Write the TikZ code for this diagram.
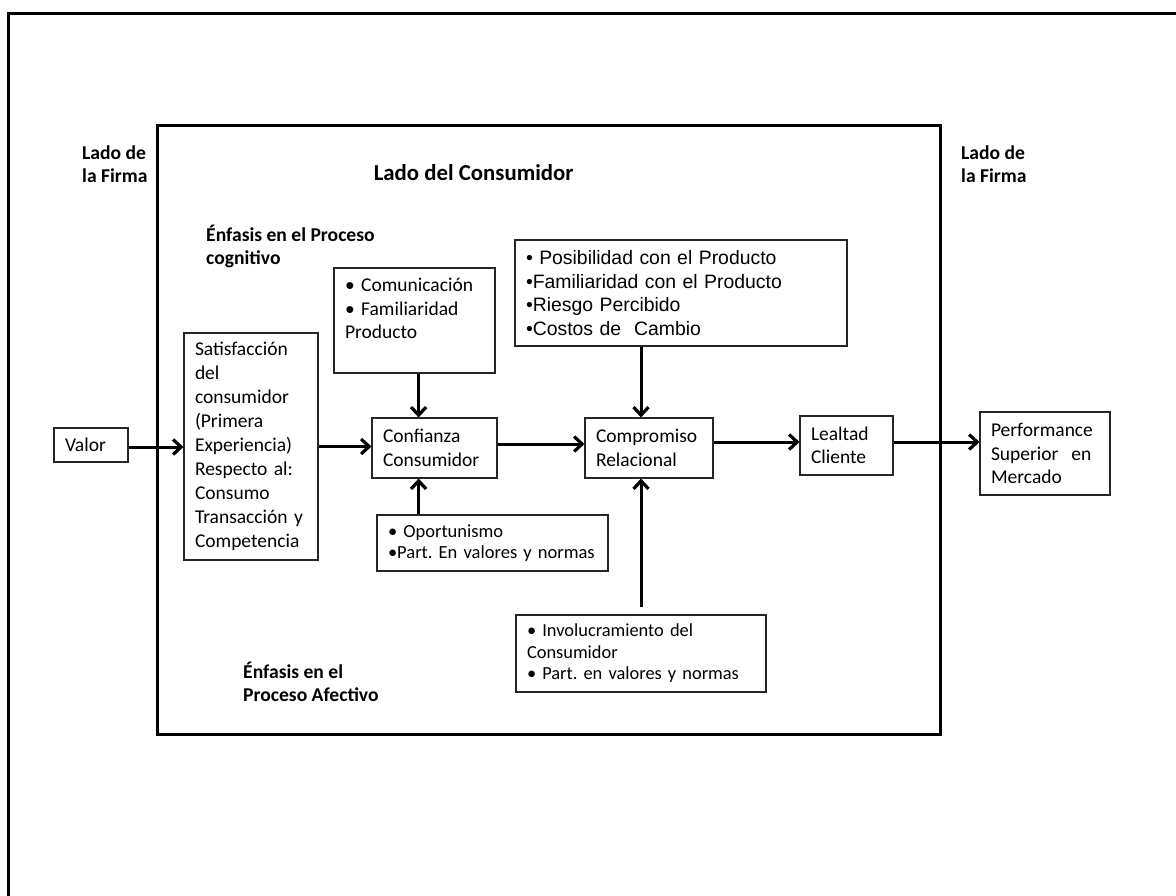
\documentclass[tikz,border=0pt]{standalone}
\usepackage{fontspec}
\setmainfont{Carlito}
\newfontfamily\arialf{Liberation Sans}
\usetikzlibrary{arrows.meta}
\begin{document}
\begin{tikzpicture}[x=1pt,y=-1pt,
  frame/.style={line width=3pt, draw=black},
  box/.style={draw=black!85, line width=1.1pt, align=left, inner xsep=11pt, inner ysep=0pt,
    font=\fontsize{19.5}{23.5}\selectfont},
  smallbox/.style={box, font=\fontsize{18.4}{21}\selectfont},
  arialbox/.style={box, font=\arialf\fontsize{19.4}{23.4}\selectfont},
  heading/.style={inner sep=0pt, align=left, font=\bfseries\fontsize{19.6}{23}\selectfont},
  arr/.style={line width=3pt, -{Straight Barb[length=8pt,width=15pt,line width=3.2pt]}}]
\useasboundingbox (0,0) rectangle (1176,895);
% outer page frame (top and left edges only visible)
\draw[frame] (8,910) -- (8,13) -- (1190,13);
% consumer side frame
\draw[frame] (157,125) rectangle (940.5,734.5);

% headings
\node[heading, anchor=west] (ladoL) at (82,164) {Lado de\\la Firma};
\node[heading, anchor=west] (ladoR) at (961,164) {Lado de\\la Firma};
\node[heading, anchor=base west, font=\bfseries\fontsize{22.8}{26}\selectfont] (consum) at (373.6,180) {Lado del Consumidor};
\node[heading, anchor=west] (enfcog) at (206,246.6) {Énfasis en el Proceso\\cognitivo};
\node[heading, anchor=west] (enfaf) at (243,682) {Énfasis en el\\Proceso Afectivo};

% boxes
\node[box, text width=52pt, minimum height=34pt] (valor) at (91,445) {Valor};
\node[box, text width=112pt, minimum height=227pt, font=\fontsize{19.5}{24}\selectfont] (satis) at (251,446.5)
  {Satisfacción\\del\\consumidor\\(Primera\\Experiencia)\\Respecto~al:\\Consumo\\Transacción~y\\Competencia};
\node[box, text width=139pt, minimum height=105pt] (comu) at (414.5,320.5)
  {•~Comunicación\\•~Familiaridad\\Producto\\\mbox{}};
\node[box, text width=103pt, minimum height=60pt] (conf) at (434.5,448) {Confianza\\Consumidor};
\node[arialbox, text width=310pt, minimum height=106pt] (topr) at (681,293)
  {•~Posibilidad con el Producto\\•Familiaridad con el Producto\\•Riesgo Percibido\\•Costos de~~Cambio};
\node[box, text width=106pt, minimum height=60pt] (comp) at (649,448) {Compromiso\\Relacional};
\node[box, text width=71pt, minimum height=59pt] (leal) at (846.5,445.5) {Lealtad\\Cliente};
\node[box, text width=108pt, minimum height=83pt] (perf) at (1045,453.5) {Performance\\Superior~~en\\Mercado};
\node[smallbox, text width=209pt, minimum height=56pt, font=\fontsize{18.5}{20.5}\selectfont] (opor) at (492.5,543)
  {•~Oportunismo\\•Part.~En valores~y~normas};
\node[smallbox, text width=228pt, minimum height=77pt, font=\fontsize{18.4}{21.5}\selectfont] (invo) at (641,653.5)
  {•~Involucramiento~del\\Consumidor\\•~Part.~en valores~y~normas};

% connectors
\coordinate (xa) at (418.6,0);
\coordinate (xb) at (641,0);
\draw[arr] ([yshift=-2pt]valor.east) -- ([yshift=-2pt]valor.east -| satis.west);
\draw[arr] (satis.east) -- (satis.east -| conf.west);
\draw[arr] ([yshift=4pt]conf.east) -- ([yshift=4pt]conf.east -| comp.west);
\draw[arr] ([yshift=6pt]comp.east) -- ([yshift=6pt]comp.east -| leal.west);
\draw[arr] ([yshift=3.5pt]leal.east) -- ([yshift=3.5pt]leal.east -| perf.west);
\draw[arr] (comu.south -| xa) -- (conf.north -| xa);
\draw[arr] (opor.north -| xa) -- (conf.south -| xa);
\draw[arr] (topr.south -| xb) -- (comp.north -| xb);
\draw[arr] ([yshift=7pt]invo.north -| xb) -- (comp.south -| xb);
\end{tikzpicture}
\end{document}
